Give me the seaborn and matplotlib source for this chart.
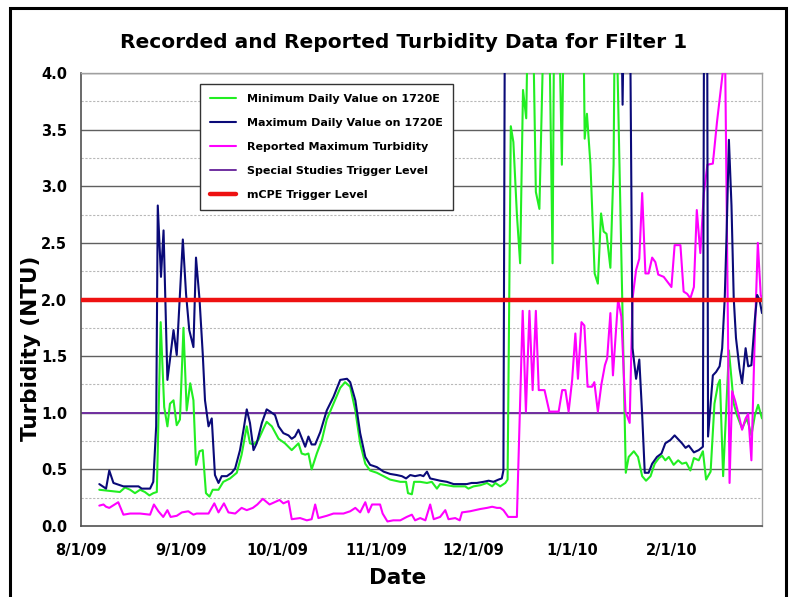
import matplotlib
matplotlib.use("Agg")
import matplotlib.pyplot as plt
from matplotlib.patches import Rectangle
from matplotlib.ticker import MultipleLocator
import seaborn as sns
import pandas as pd
import numpy as np

# ---------------- data (days since 8/1/09, turbidity NTU) ----------------
START = "2009-08-01"

max_days = [5.7, 7.8, 8.8, 10.1, 13.2, 16.3, 17.9, 18.9, 21.5, 22.5, 23.4, 23.9, 24.9, 25.7, 26.9,
            27.7, 28.8, 29.8, 30.8, 31.7, 32.7, 33.7, 35.0, 35.8, 36.9, 37.9, 38.6, 39.7, 40.7, 41.7,
            42.8, 43.8, 45.4, 46.9, 48.0, 49.5, 50.6, 51.6, 52.6, 53.7, 54.7, 56.3, 57.8, 58.9, 60.4,
            61.5, 63.0, 64.6, 65.6, 66.6, 67.7, 69.8, 70.8, 71.8, 72.9, 74.5, 76.5, 78.6, 80.7, 82.8,
            83.8, 85.4, 86.9, 88.5, 90.0, 92.1, 94.2, 96.2, 98.3, 99.9, 101.2, 102.5, 104.0, 105.6,
            106.6, 107.7, 108.7, 110.3, 111.8, 113.9, 116.0, 118.0, 120.1, 121.6, 123.2, 125.3, 126.9,
            128.4, 130.0, 131.0, 131.5, 132.0, 140.0, 150.0, 160.0, 168.0, 168.6, 169.2, 170.8, 171.7,
            172.8, 173.8, 174.7, 175.5, 176.7, 177.8, 179.3, 180.7, 181.9, 183.5, 184.8, 186.1, 187.1,
            188.2, 189.2, 190.8, 192.3, 193.6, 194.0, 194.9, 195.2, 196.7, 197.7, 198.8, 199.6, 200.4,
            201.0, 201.7, 202.5, 203.2, 203.9, 205.0, 205.8, 206.9, 207.7, 208.7, 209.8, 210.5, 211.2,
            212.0]
max_vals = [0.37, 0.33, 0.49, 0.38, 0.35, 0.35, 0.35, 0.33, 0.33, 0.39, 0.88, 2.83, 2.20, 2.61, 1.29,
            1.47, 1.73, 1.51, 2.05, 2.53, 2.05, 1.73, 1.58, 2.37, 2.00, 1.52, 1.11, 0.88, 0.95, 0.45,
            0.38, 0.44, 0.44, 0.47, 0.51, 0.67, 0.85, 1.03, 0.91, 0.67, 0.73, 0.91, 1.03, 1.01, 0.98,
            0.88, 0.82, 0.80, 0.77, 0.79, 0.85, 0.70, 0.79, 0.72, 0.72, 0.83, 1.02, 1.14, 1.29, 1.30,
            1.27, 1.11, 0.82, 0.61, 0.54, 0.52, 0.48, 0.46, 0.45, 0.44, 0.42, 0.45, 0.44, 0.45,
            0.44, 0.48, 0.42, 0.41, 0.40, 0.39, 0.37, 0.37, 0.37, 0.38, 0.38, 0.39, 0.40,
            0.39, 0.41, 0.42, 0.49, 5.00, 5.00, 5.00, 5.00, 5.00, 3.72, 5.00, 5.00, 1.57,
            1.30, 1.47, 0.98, 0.47, 0.47, 0.55, 0.61, 0.64, 0.73, 0.76, 0.80, 0.76, 0.73,
            0.69, 0.71, 0.65, 0.67, 0.70, 5.00, 5.00, 0.79, 1.33, 1.36, 1.41, 1.57, 2.01,
            2.60, 3.41, 2.83, 2.01, 1.66, 1.39, 1.26, 1.57, 1.41, 1.42, 1.83, 2.04, 2.00,
            1.88]

min_days = [5.7, 9.0, 12.1, 13.7, 15.3, 16.8, 18.4, 19.9, 21.3, 22.5, 23.6, 24.8, 25.9, 26.9, 27.7,
            28.8, 29.8, 30.8, 31.9, 32.9, 34.0, 35.0, 35.8, 36.9, 37.9, 38.9, 40.0, 41.0, 42.8, 44.3,
            46.4, 48.5, 50.0, 51.6, 52.6, 53.7, 55.2, 56.8, 57.8, 59.4, 61.5, 63.5, 65.6, 67.7, 68.7,
            69.8, 70.8, 71.8, 73.4, 75.0, 76.5, 78.6, 80.7, 82.2, 83.8, 85.4, 86.9, 88.5, 90.0, 92.1,
            94.2, 96.2, 99.4, 101.2, 101.8, 103.0, 103.7, 105.6, 107.7, 109.2, 110.8, 111.8, 113.9,
            116.0, 118.0, 119.6, 120.6, 122.2, 124.3, 126.4, 128.0, 129.0, 130.5, 132.1, 132.8, 133.8,
            134.6, 135.7, 136.7, 137.6, 138.6, 139.4, 140.4, 141.6, 142.7, 144.5, 145.5, 146.8, 147.4,
            148.5, 149.7, 150.5, 153.0, 156.2, 156.8, 157.5, 158.6, 159.9, 160.9, 161.9, 162.7, 163.6,
            164.8, 165.8, 166.3, 166.9, 169.6, 170.5, 172.1, 173.4, 174.7, 175.9, 177.3, 178.6, 179.9,
            180.9, 181.9, 183.0, 184.5, 185.9, 187.1, 188.4, 189.7, 190.8, 192.3, 193.6, 194.6, 196.0,
            197.2, 198.3, 198.9, 199.9, 201.7, 203.2, 204.2, 205.8, 207.2, 207.9, 208.7, 209.8, 210.8,
            212.0]
min_vals = [0.32, 0.31, 0.30, 0.34, 0.32, 0.29, 0.32, 0.30, 0.27, 0.29, 0.30, 1.80, 1.05, 0.88, 1.08,
            1.11, 0.89, 0.94, 1.75, 1.02, 1.26, 1.11, 0.54, 0.66, 0.67, 0.29, 0.26, 0.32, 0.32, 0.39,
            0.42, 0.47, 0.63, 0.88, 0.73, 0.72, 0.76, 0.86, 0.92, 0.88, 0.77, 0.73, 0.67, 0.73, 0.64,
            0.63, 0.64, 0.50, 0.64, 0.76, 0.94, 1.08, 1.22, 1.27, 1.23, 1.02, 0.73, 0.55, 0.49, 0.47,
            0.44, 0.41, 0.39, 0.39, 0.29, 0.28, 0.39, 0.39, 0.38, 0.39, 0.33, 0.37, 0.36,
            0.35, 0.35, 0.35, 0.33, 0.35, 0.36, 0.38, 0.35, 0.38, 0.35, 0.38, 0.41, 3.53,
            3.39, 2.75, 2.32, 3.85, 3.60, 5.00, 5.00, 2.95, 2.80, 5.00, 5.00, 2.32, 5.00,
            5.00, 3.19, 5.00, 5.00, 5.00, 3.42, 3.64, 3.19, 2.23, 2.14, 2.76, 2.60, 2.58,
            2.28, 3.19, 5.00, 4.20, 0.47, 0.61, 0.66, 0.61, 0.44, 0.40, 0.44, 0.55, 0.60,
            0.62, 0.58, 0.61, 0.54, 0.58, 0.55, 0.56, 0.49, 0.60, 0.58, 0.66, 0.41, 0.48,
            1.08, 1.25, 1.29, 0.44, 1.55, 1.08, 0.98, 0.86, 0.95, 0.89, 0.80, 0.98, 1.07,
            0.95]

rep_days = [5.7, 7.0, 7.8, 8.8, 11.6, 13.2, 15.3, 18.4, 21.5, 22.7, 24.1, 25.6, 26.9, 27.9, 29.8,
            31.4, 33.4, 35.0, 36.0, 39.7, 41.5, 42.8, 44.5, 45.9, 48.0, 50.0, 51.6, 53.5, 54.9, 56.6,
            58.7, 61.8, 63.0, 64.6, 65.6, 68.2, 70.3, 71.8, 72.9, 73.9, 76.5, 78.6, 81.7, 83.8, 85.4,
            86.9, 88.5, 89.5, 90.6, 93.1, 93.9, 95.4, 97.2, 99.4, 101.4, 103.0, 104.0, 105.6, 107.2,
            108.7, 109.8, 111.8, 113.4, 114.4, 116.5, 117.9, 118.6, 121.1, 124.3, 126.4, 128.0, 129.5,
            130.5, 131.5, 133.0, 135.7, 137.5, 138.5, 139.6, 140.6, 141.6, 142.5, 144.3, 145.8, 148.7,
            149.8, 150.8, 151.8, 152.9, 153.9, 154.7, 155.8, 156.7, 157.7, 159.1, 159.8, 160.9, 162.0,
            163.1, 163.8, 164.8, 165.6, 167.2, 168.2, 169.5, 170.8, 171.7, 172.8, 173.8, 174.7, 175.7,
            176.7, 177.8, 178.8, 179.7, 181.4, 183.0, 183.8, 184.8, 186.6, 187.6, 188.7, 189.7, 190.8,
            191.7, 192.8, 193.9, 195.0, 196.7, 198.0, 199.8, 200.5, 201.9, 202.7, 203.7, 205.0, 205.8,
            206.9, 207.7, 208.7, 209.8, 210.7, 211.6, 212.0]
rep_vals = [0.18, 0.19, 0.17, 0.16, 0.21, 0.10, 0.11, 0.11, 0.10, 0.19, 0.13, 0.08, 0.14, 0.08, 0.09,
            0.12, 0.13, 0.10, 0.11, 0.11, 0.20, 0.12, 0.20, 0.12, 0.11, 0.16, 0.14, 0.16, 0.19, 0.24,
            0.19, 0.23, 0.20, 0.22, 0.06, 0.07, 0.05, 0.06, 0.19, 0.07, 0.09, 0.11, 0.11, 0.13, 0.16,
            0.12, 0.21, 0.12, 0.19, 0.19, 0.11, 0.04, 0.05, 0.05, 0.08, 0.10, 0.05, 0.07, 0.05,
            0.19, 0.06, 0.08, 0.14, 0.06, 0.07, 0.05, 0.12, 0.13, 0.15, 0.16, 0.17, 0.16,
            0.16, 0.14, 0.08, 0.08, 1.90, 1.01, 1.90, 1.20, 1.90, 1.20, 1.20, 1.01, 1.01,
            1.20, 1.20, 1.01, 1.29, 1.70, 1.30, 1.80, 1.77, 1.23, 1.23, 1.27, 1.01, 1.25,
            1.42, 1.48, 1.88, 1.33, 2.00, 1.85, 1.01, 0.91, 2.01, 2.26, 2.36, 2.94, 2.23,
            2.23, 2.37, 2.33, 2.22, 2.20, 2.14, 2.11, 2.48, 2.48, 2.07, 2.05, 2.01, 2.11,
            2.79, 2.41, 2.94, 3.19, 3.20, 3.57, 4.01, 4.20, 0.38, 1.19, 1.10, 0.95, 0.85,
            0.95, 0.99, 0.58, 1.72, 2.50, 2.04, 2.01]

special_level = 1.0
mcpe_level = 2.0

tick_dates = ["2009-08-01", "2009-09-01", "2009-10-01", "2009-11-01", "2009-12-01",
              "2010-01-01", "2010-02-01", "2010-03-01"]
tick_labels = ["8/1/09", "9/1/09", "10/1/09", "11/1/09", "12/1/09", "1/1/10", "2/1/10", ""]

labels = ["Minimum Daily Value on 1720E", "Maximum Daily Value on 1720E",
          "Reported Maximum Turbidity", "Special Studies Trigger Level", "mCPE Trigger Level"]

# ---------------- plotting ----------------
sns.set_style("white")
plt.rcParams["font.family"] = ["DejaVu Sans"]
plt.rcParams["text.color"] = "black"
plt.rcParams["xtick.color"] = "#606060"
plt.rcParams["ytick.color"] = "#606060"
plt.rcParams["xtick.labelcolor"] = "black"
plt.rcParams["ytick.labelcolor"] = "black"

W, H = 794, 597
fig = plt.figure(figsize=(W / 100, H / 100), dpi=100)
ax = fig.add_axes([81 / W, 1 - 526 / H, (762 - 81) / W, (526 - 73) / H])

base = pd.Timestamp(START)


def to_dates(days):
    return base + pd.to_timedelta(np.asarray(days), unit="D")


# grid lines
ax.yaxis.set_major_locator(MultipleLocator(0.5))
ax.yaxis.set_minor_locator(MultipleLocator(0.25))
ax.grid(False)
for v in np.arange(0.25, 4.01, 0.25):
    if abs(v / 0.5 - round(v / 0.5)) < 1e-6:
        ax.axhline(v, color="#606060", lw=1.0, zorder=0.5)
    else:
        ax.axhline(v, color="#b8b8b8", lw=0.8, ls=(0, (2, 1.5)), zorder=0.5)

green = "#22EE22"
navy = "#0A0A78"
magenta = "#FF00FF"
purple = "#7030A0"
red = "#EE1111"

sns.lineplot(x=to_dates(min_days), y=min_vals, ax=ax, color=green, linewidth=1.5,
             label=labels[0], estimator=None, sort=False, zorder=3)
sns.lineplot(x=to_dates(max_days), y=max_vals, ax=ax, color=navy, linewidth=1.5,
             label=labels[1], estimator=None, sort=False, zorder=3.2)
sns.lineplot(x=to_dates(rep_days), y=rep_vals, ax=ax, color=magenta, linewidth=1.5,
             label=labels[2], estimator=None, sort=False, zorder=3.1)
ax.axhline(special_level, color=purple, lw=1.4, label=labels[3], zorder=2)
ax.axhline(mcpe_level, color=red, lw=3.2, label=labels[4], zorder=4)

ax.set_xlim(pd.Timestamp(tick_dates[0]), pd.Timestamp(tick_dates[-1]))
ax.set_ylim(0, 4.0)
ax.set_xticks(pd.to_datetime(tick_dates))
ax.set_xticklabels(tick_labels, fontsize=10.5, fontweight="bold", color="black")
ax.set_yticks(np.arange(0, 4.01, 0.5))
ax.set_yticklabels([f"{v:.1f}" for v in np.arange(0, 4.01, 0.5)], fontsize=10.5,
                   fontweight="bold", color="black")
ax.tick_params(axis="x", which="major", direction="out", length=6, width=1, color="#606060", pad=6)
ax.tick_params(axis="y", which="major", direction="out", length=6, width=1, color="#606060", pad=4)
ax.tick_params(axis="y", which="minor", direction="out", length=3, width=1, color="#606060")
ax.set_xlabel("")
ax.set_ylabel("")

for side in ["left", "bottom"]:
    ax.spines[side].set_color("#505050")
    ax.spines[side].set_linewidth(1.2)
for side in ["top", "right"]:
    ax.spines[side].set_color("#a0a0a0")
    ax.spines[side].set_linewidth(1.0)

leg = ax.legend(loc="upper left", bbox_to_anchor=((200 - 81) / 681, (526 - 84) / 453),
                prop={"weight": "bold", "size": 8}, frameon=True, fancybox=False,
                edgecolor="#333333", framealpha=1, handlelength=2.3, labelspacing=1.25,
                borderpad=0.9, handletextpad=1.0, borderaxespad=0)
leg.get_frame().set_linewidth(1.0)
for t in leg.get_texts():
    t.set_color("black")

fig.text(404 / W, 1 - 42 / H, "Recorded and Reported Turbidity Data for Filter 1",
         ha="center", va="center", fontsize=14.5, fontweight="bold", color="black")
fig.text(398 / W, 1 - 578 / H, "Date", ha="center", va="center", fontsize=15.5,
         fontweight="bold", color="black")
fig.text(31 / W, 1 - 348 / H, "Turbidity (NTU)", ha="center", va="center", rotation=90,
         fontsize=15.5, fontweight="bold", color="black")

fig.patches.append(Rectangle((10 / W, -0.05), (786 - 10) / W, 1 - 8 / H + 0.05,
                             transform=fig.transFigure, fill=False, lw=2.2, ec="black"))

fig.savefig("out.png", dpi=100)
